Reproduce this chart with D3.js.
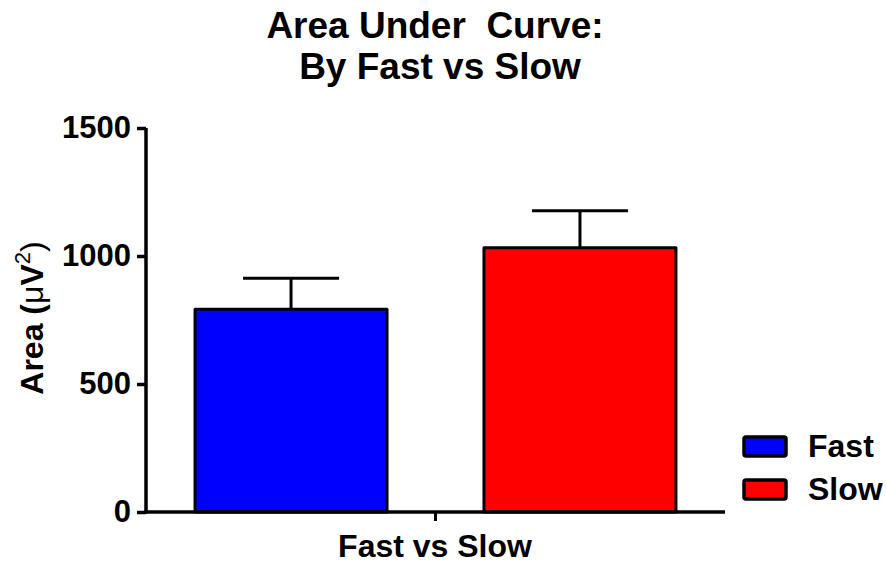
<!DOCTYPE html>
<html>
<head>
<meta charset="utf-8">
<script src="https://cdn.jsdelivr.net/npm/d3@7"></script>
<style>
  body { margin: 0; background: #fff; }
  text { font-family: "Liberation Sans", Arial, sans-serif; font-weight: bold; fill: #000; }
</style>
</head>
<body>
<svg width="886" height="564"></svg>
<script>
const groups = ['Fast vs Slow'];
const series = ['Fast', 'Slow'];
const means = [792, 1032];
const sems = [121, 145];
const colors = ['#0000ff', '#ff0000'];
const yTicks = [0, 500, 1000, 1500];

const svg = d3.select('svg');

const x0 = d3.scaleBand().domain(groups).range([146, 725]).paddingInner(0).paddingOuter(0.102);
const x1 = d3.scaleBand().domain(series).range([x0(groups[0]), x0(groups[0]) + x0.bandwidth()]).paddingInner(0.3356).paddingOuter(0);
const y = d3.scaleLinear().domain([0, 1500]).range([512, 128]);

// title
svg.append('text').attr('x', 435).attr('y', 38).attr('text-anchor', 'middle')
  .style('font-size', '37px').style('white-space', 'pre').text('Area Under  Curve:');
svg.append('text').attr('x', 440).attr('y', 79).attr('text-anchor', 'middle')
  .style('font-size', '37px').text('By Fast vs Slow');

// bars
const bars = svg.append('g');
series.forEach((s, i) => {
  const bx = x1(s);
  const bw = x1.bandwidth();
  const cx = bx + bw / 2;
  bars.append('line')
    .attr('x1', cx).attr('x2', cx)
    .attr('y1', y(means[i])).attr('y2', y(means[i] + sems[i]))
    .attr('stroke', '#000').attr('stroke-width', 3);
  bars.append('line')
    .attr('x1', cx - bw / 4).attr('x2', cx + bw / 4)
    .attr('y1', y(means[i] + sems[i])).attr('y2', y(means[i] + sems[i]))
    .attr('stroke', '#000').attr('stroke-width', 3);
  bars.append('rect')
    .attr('x', bx).attr('y', y(means[i]))
    .attr('width', bw).attr('height', y(0) - y(means[i]))
    .attr('fill', colors[i]).attr('stroke', '#000').attr('stroke-width', 3)
    .attr('stroke-linejoin', 'round');
});

// y axis
const yAxis = svg.append('g').attr('transform', 'translate(146,0)')
  .call(d3.axisLeft(y).tickValues(yTicks).tickSize(9).tickPadding(6).tickFormat(d3.format('d')));
yAxis.select('.domain').attr('stroke-width', 3.5).attr('d', `M0,${y(1500)}V${y(0) + 1.5}`);
yAxis.selectAll('.tick line').attr('stroke-width', 3.5);
yAxis.selectAll('.tick text').style('font-size', '31px').style('font-family', '"Liberation Sans", Arial, sans-serif').style('font-weight', 'bold');

// x axis
const xAxis = svg.append('g').attr('transform', `translate(0,${y(0)})`)
  .call(d3.axisBottom(x0).tickSize(9).tickFormat(''));
xAxis.select('.domain').attr('stroke-width', 3.5).attr('d', 'M144.25,0H725');
xAxis.selectAll('.tick line').attr('stroke-width', 3);

svg.append('text').attr('x', 435).attr('y', 557).attr('text-anchor', 'middle')
  .style('font-size', '32px').text('Fast vs Slow');

// y label
svg.append('text').attr('transform', 'translate(43,318) rotate(-90)').attr('text-anchor', 'middle')
  .style('font-size', '32px')
  .call(t => {
    t.append('tspan').text('Area (');
    t.append('tspan').style('font-weight', 'normal').text('\u03bc');
    t.append('tspan').text('V');
    t.append('tspan').attr('dy', -13).style('font-size', '22px').style('font-weight', 'normal').text('2');
    t.append('tspan').attr('dy', 13).style('font-weight', 'normal').text(')');
  });

// legend
const legend = svg.append('g');
series.forEach((s, i) => {
  const ly = 437 + i * 43;
  legend.append('rect').attr('x', 744).attr('y', ly).attr('width', 42).attr('height', 19)
    .attr('rx', 2).attr('fill', colors[i]).attr('stroke', '#000').attr('stroke-width', 3.5);
  legend.append('text').attr('x', 808).attr('y', ly + 20).style('font-size', '32px').text(s);
});
</script>
</body>
</html>
